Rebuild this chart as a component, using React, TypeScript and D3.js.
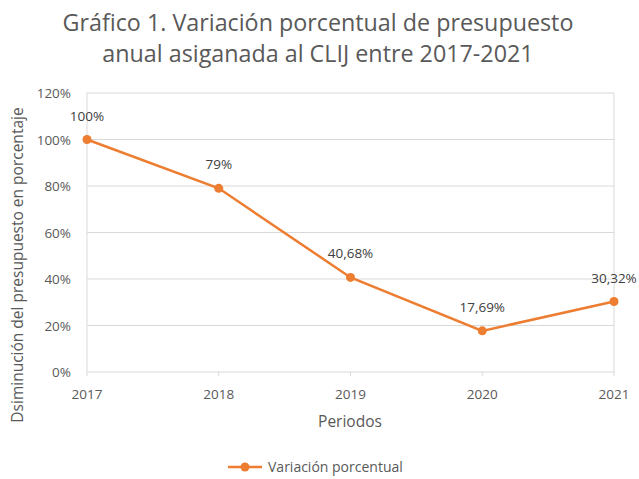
import React from 'react';
import * as d3 from 'd3';

const years = ['2017', '2018', '2019', '2020', '2021'];
const values = [100, 79, 40.68, 17.69, 30.32];
const pointLabels = ['100%', '79%', '40,68%', '17,69%', '30,32%'];
const yTicks = [0, 20, 40, 60, 80, 100, 120];

const App = () => {
    const width = 639;
    const height = 479;
    const margin = { top: 93, right: 25, bottom: 107, left: 87 };
    const grey = '#595959';
    const orange = '#ED7D31';
    const font = "'Open Sans', 'Segoe UI', sans-serif";

    const x = d3
        .scalePoint()
        .domain(years)
        .range([margin.left, width - margin.right]);
    const y = d3
        .scaleLinear()
        .domain([0, 120])
        .range([height - margin.bottom, margin.top]);

    const line = d3
        .line<number>()
        .x((d, i) => x(years[i]) as number)
        .y((d) => y(d));

    return (
        <svg
            width={width}
            height={height}
            style={{ position: 'absolute', left: 0, top: 0, background: '#fff' }}
        >
            <text x={318} y={31} textAnchor="middle" fontFamily={font} fontSize={23.3} fill={grey}>
                Gráfico 1. Variación porcentual de presupuesto
            </text>
            <text x={318} y={62} textAnchor="middle" fontFamily={font} fontSize={23.3} fill={grey}>
                anual asiganada al CLIJ entre 2017-2021
            </text>

            {/* gridlines */}
            {yTicks.map((t) => (
                <g key={t}>
                    <line
                        x1={margin.left}
                        x2={width - margin.right}
                        y1={y(t)}
                        y2={y(t)}
                        stroke="#d9d9d9"
                        strokeWidth={1}
                    />
                    <text
                        x={margin.left - 16}
                        y={y(t) + 5}
                        textAnchor="end"
                        fontFamily={font}
                        fontSize={13.5}
                        fill={grey}
                    >
                        {t}%
                    </text>
                </g>
            ))}
            <line x1={margin.left} x2={margin.left} y1={y(120)} y2={y(0)} stroke="#d9d9d9" />
            <line
                x1={width - margin.right}
                x2={width - margin.right}
                y1={y(120)}
                y2={y(0)}
                stroke="#d9d9d9"
            />

            {years.map((yr) => (
                <g key={yr}>
                    <line x1={x(yr)} x2={x(yr)} y1={y(0)} y2={y(0) + 4} stroke="#d9d9d9" />
                    <text
                        x={x(yr)}
                        y={y(0) + 27}
                        textAnchor="middle"
                        fontFamily={font}
                        fontSize={13.5}
                        fill={grey}
                    >
                        {yr}
                    </text>
                </g>
            ))}

            <text x={350} y={427} textAnchor="middle" fontFamily={font} fontSize={15.5} fill={grey}>
                Periodos
            </text>
            <text
                transform={`translate(23,265) rotate(-90)`}
                textAnchor="middle"
                fontFamily={font}
                fontSize={15.5}
                fill={grey}
            >
                Dsiminución del presupuesto en porcentaje
            </text>

            <path d={line(values) || ''} fill="none" stroke={orange} strokeWidth={2.5} />
            {values.map((v, i) => (
                <g key={i}>
                    <circle cx={x(years[i])} cy={y(v)} r={4.5} fill={orange} />
                    <text
                        x={x(years[i])}
                        y={y(v) - 19}
                        textAnchor="middle"
                        fontFamily={font}
                        fontSize={13.5}
                        fill="#404040"
                    >
                        {pointLabels[i]}
                    </text>
                </g>
            ))}

            {/* legend */}
            <line x1={228} x2={262} y1={467} y2={467} stroke={orange} strokeWidth={2.5} />
            <circle cx={245} cy={467} r={4.5} fill={orange} />
            <text x={268} y={472} fontFamily={font} fontSize={14} fill={grey}>
                Variación porcentual
            </text>
        </svg>
    );
};

export default App;
